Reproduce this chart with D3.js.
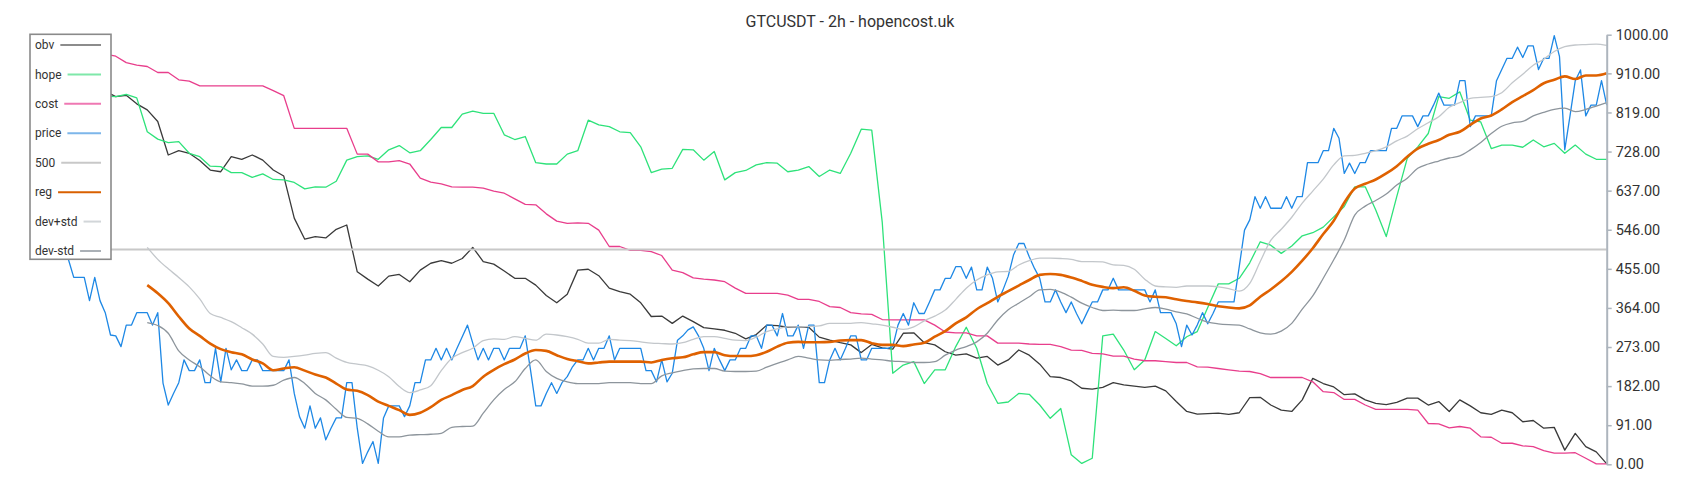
<!DOCTYPE html>
<html><head><meta charset="utf-8">
<script src="https://cdn.jsdelivr.net/npm/d3@7/dist/d3.min.js"></script>
<style>
html,body{margin:0;padding:0;background:#fff;}
svg{display:block;font-family:Roboto,"Noto Sans",sans-serif;}
</style></head>
<body>
<svg id="chart" width="1700" height="500"></svg>
<script>
// ---- data (time index 0..299, 2h candles) ----
const title = "GTCUSDT - 2h - hopencost.uk";
const yTicks = [0, 91, 182, 273, 364, 455, 546, 637, 728, 819, 910, 1000];
const level500 = 500;

// price: one value per candle (300)
const price = [
580,557,545,527,510,494,476,435,435,435,
381,435,381,353,301,299,274,324,324,353,
353,353,324,353,189,138,165,190,243,218,
218,243,190,190,270,192,270,220,243,218,
218,243,243,218,218,218,218,218,243,165,
111,84,136,84,108,57,84,108,108,190,
190,84,2,29,53,2,108,136,136,136,
111,136,190,190,243,243,270,243,270,243,
270,297,324,282,243,270,243,270,270,243,
270,270,270,299,220,136,136,165,190,165,
190,204,227,243,243,270,243,270,270,299,
243,270,270,270,270,270,218,218,192,243,
192,212,289,299,313,320,299,270,218,270,
243,218,243,243,270,270,299,299,270,324,
324,299,351,299,299,324,270,324,324,190,
190,243,270,243,270,299,299,243,243,270,
270,270,270,274,324,351,324,376,351,351,
378,406,406,433,433,460,460,433,459,406,
406,459,433,378,406,438,487,514,514,483,
456,433,378,378,406,378,353,378,351,327,
353,378,378,406,406,433,406,406,406,406,
406,406,378,406,353,353,353,327,274,324,
301,324,353,327,351,378,378,378,378,460,
545,569,623,596,623,596,596,596,623,596,
623,623,702,702,702,730,730,782,759,677,
701,677,702,702,730,730,730,730,782,782,
811,811,811,786,811,811,836,864,836,836,
836,893,893,786,811,811,811,811,893,919,
945,945,971,947,974,974,919,945,945,998,
949,732,811,893,918,811,836,836,893,836];

// the other series: one value every second candle (candles 1,3,5,...,299)
const cost = [
1000,990,985,975,970,962,955,950,935,929,
926,912,912,895,892,881,881,881,881,881,
881,881,870,858,782,782,782,782,782,782,
722,722,704,704,707,699,666,657,653,646,
645,645,643,636,631,618,605,604,583,566,
561,562,561,545,507,507,498,498,495,486,
452,446,434,431,429,425,410,398,398,398,
398,394,384,384,379,367,365,353,350,349,
337,336,336,336,336,324,308,306,306,299,
299,282,282,282,280,279,279,274,266,265,
258,257,252,252,245,241,241,239,237,237,
227,226,223,220,217,216,211,202,202,202,
202,192,169,167,151,151,138,128,128,128,
128,126,95,94,85,88,84,64,63,49,
49,43,41,32,26,26,27,14,1,1];

const hope = [
870,866,872,860,864,858,857,856,861,853,
774,757,749,751,724,716,694,693,679,679,
668,676,663,662,656,641,646,645,659,708,
716,718,710,732,742,725,730,756,784,784,
815,822,817,817,767,756,763,702,699,699,
722,730,801,790,786,774,772,739,679,687,
689,733,732,708,728,662,679,684,697,702,
701,681,685,693,670,685,677,724,780,778,
563,212,231,239,188,220,220,274,319,270,
188,142,145,165,163,138,107,130,22,2,
14,299,303,266,220,243,309,293,276,297,
309,365,420,420,433,469,518,510,491,508,
532,539,552,576,600,646,646,592,530,623,
712,739,770,856,852,867,801,797,735,743,
743,738,755,739,747,724,743,722,710,710];

const obv = [
890,885,880,884,876,872,868,856,859,839,
825,798,720,730,724,707,685,681,716,710,
720,708,685,671,573,524,530,527,547,557,
448,431,415,438,442,425,452,468,474,468,
479,505,472,466,450,433,433,417,393,376,
396,452,454,439,410,402,396,376,344,345,
328,345,332,318,315,312,305,292,302,324,
323,319,320,319,296,289,283,278,260,279,
271,268,305,306,283,278,262,254,257,247,
251,231,243,266,254,233,204,202,194,177,
175,179,190,185,182,179,182,171,146,123,
117,118,119,116,120,155,156,138,126,123,
150,200,188,180,162,164,150,142,139,144,
154,154,138,146,123,150,136,120,116,126,
120,99,102,84,86,33,72,41,29,1];

const reg = [
null,null,null,null,null,null,null,null,null,null,
417,398,375,344,316,299,281,268,261,256,
244,235,219,223,226,218,209,202,188,174,
171,161,146,136,126,115,120,133,150,161,
173,182,204,220,233,244,258,266,264,254,
245,240,235,237,239,239,239,239,237,243,
247,249,256,261,261,254,252,252,254,262,
274,283,285,284,284,285,288,289,289,282,
278,278,275,279,283,297,310,328,342,361,
375,390,403,416,429,441,443,441,435,427,
418,413,410,412,404,393,390,389,384,380,
377,373,368,365,363,370,390,407,426,448,
474,503,536,567,609,642,653,663,677,694,
716,735,746,755,767,774,790,805,812,826,
843,857,871,887,895,903,897,905,905,910];

const devPlus = [
null,null,null,null,null,null,null,null,null,null,
505,477,455,435,413,385,351,342,332,318,
303,280,251,249,251,254,258,260,247,237,
233,229,219,204,181,167,173,183,218,247,
260,270,288,292,291,297,293,289,303,301,
297,291,282,282,291,289,288,285,282,281,
280,283,291,297,297,293,289,288,296,309,
315,320,320,321,322,328,328,328,330,327,
324,319,314,320,334,345,359,384,410,429,
441,448,449,464,474,480,480,479,477,472,
472,471,464,463,454,431,415,413,412,415,
415,415,413,409,403,421,472,521,547,575,
608,636,664,697,718,719,724,730,739,753,
764,781,795,809,831,842,852,854,856,865,
888,908,929,943,961,972,976,977,978,975];

const devMinus = [
null,null,null,null,null,null,null,null,null,null,
330,323,305,264,243,227,206,192,190,187,
182,182,184,196,202,188,165,150,128,109,
107,94,77,64,64,68,69,70,72,86,
88,89,119,150,174,192,223,243,216,200,
192,188,188,188,190,190,190,188,188,206,
213,218,222,223,223,217,216,216,217,226,
235,243,251,247,243,242,244,245,247,245,
243,240,239,237,237,239,254,266,274,285,
305,336,360,375,390,406,407,401,389,375,
365,358,359,358,358,362,365,361,355,350,
340,331,327,325,324,315,306,303,310,328,
361,392,433,476,522,580,601,614,629,650,
666,689,699,706,713,718,732,749,770,787,
795,798,811,819,826,829,821,826,834,842];

const seriesNames = ["obv","hope","cost","price","500","reg","dev+std","dev-std"];

// ---- layout / styles ----
const W = 1700, H = 500;
const svg = d3.select("#chart");
svg.append("rect").attr("width", W).attr("height", H).attr("fill", "#fff");

const x = d3.scaleLinear().domain([0, 299]).range([37, 1606.75]);
const y = d3.scaleLinear().domain([0, 1000]).range([464.3, 34.7]);

const every = arr => arr.map((v, i) => [i, v]);
const odd = arr => arr.map((v, k) => [2 * k + 1, v]);

const styles = {
  "obv":     {color: "#3a3a3a", width: 1.3, legend: "#8c8c8c"},
  "hope":    {color: "#2ee27a", width: 1.3, legend: "#7fe8a9"},
  "cost":    {color: "#e83e8c", width: 1.3, legend: "#ef78b3"},
  "price":   {color: "#1e88e5", width: 1.3, legend: "#7db6ea"},
  "500":     {color: "#c8c8c8", width: 2,   legend: "#c8c8c8"},
  "reg":     {color: "#df6100", width: 2.6, legend: "#d96000"},
  "dev+std": {color: "#c3c7cb", width: 1.3, legend: "#d2d6d9"},
  "dev-std": {color: "#8d959c", width: 1.3, legend: "#aab0b6"}
};

const data = {
  "obv": odd(obv),
  "hope": odd(hope),
  "cost": odd(cost),
  "price": every(price),
  "500": [[0, level500], [299, level500]],
  "reg": odd(reg),
  "dev+std": odd(devPlus),
  "dev-std": odd(devMinus)
};
const smooth = new Set(["reg", "dev+std", "dev-std"]);

const g = svg.append("g");
seriesNames.forEach(name => {
  const line = d3.line()
    .defined(d => d[1] != null)
    .x(d => x(d[0])).y(d => y(d[1]))
    .curve(smooth.has(name) ? d3.curveMonotoneX : d3.curveLinear);
  g.append("path")
    .datum(data[name])
    .attr("fill", "none")
    .attr("stroke", styles[name].color)
    .attr("stroke-width", styles[name].width)
    .attr("stroke-linejoin", "round")
    .attr("d", line);
});

// ---- right axis ----
const axis = d3.axisRight(y).tickValues(yTicks).tickSize(5).tickSizeOuter(0)
  .tickFormat(d3.format(".2f")).tickPadding(4);
const ag = svg.append("g").attr("transform", "translate(1606.7,0)").call(axis);
ag.select(".domain").attr("stroke", "#adb5bd").attr("stroke-width", 2);
ag.selectAll(".tick line").attr("stroke", "#adb5bd").attr("stroke-width", 1.5);
ag.selectAll(".tick text").attr("fill", "#333").style("font-size", "14.5px")
  .style("font-family", "Roboto, sans-serif");

// ---- title ----
svg.append("text").attr("x", W / 2).attr("y", 26.5).attr("text-anchor", "middle")
  .attr("fill", "#333").style("font-size", "16px").text(title);

// ---- legend ----
const lg = svg.append("g");
lg.append("rect").attr("x", 30).attr("y", 34.3).attr("width", 81).attr("height", 225)
  .attr("fill", "#fff").attr("stroke", "#8a8a8a").attr("stroke-width", 1.6);
const ly = d3.scalePoint().domain(seriesNames).range([45, 251]);
seriesNames.forEach(name => {
  const t = lg.append("text").attr("x", 35).attr("y", ly(name)).attr("dy", "0.35em")
    .attr("fill", "#333").style("font-size", "12px").text(name);
  const tw = t.node().getComputedTextLength();
  lg.append("line").attr("x1", 35 + tw + 6).attr("x2", 101)
    .attr("y1", ly(name)).attr("y2", ly(name))
    .attr("stroke", styles[name].legend).attr("stroke-width", 2);
});
</script>
</body></html>
